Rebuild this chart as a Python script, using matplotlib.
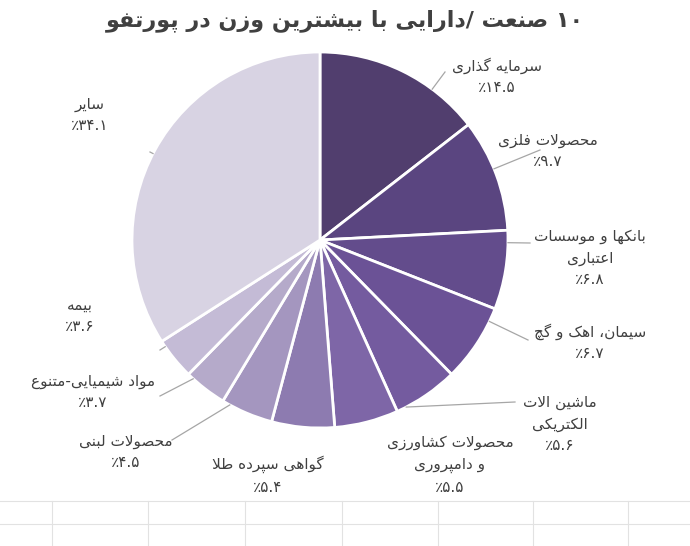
import numpy as np
import matplotlib
matplotlib.use("Agg")
import matplotlib.pyplot as plt

categories = ["سرمایه گذاری", "محصولات فلزی", "بانکها و موسسات\nاعتباری", "سیمان، اهک و گچ",
              "ماشین الات\nالکتریکی", "محصولات کشاورزی\nو دامپروری", "گواهی سپرده طلا",
              "محصولات لبنی", "مواد شیمیایی-متنوع", "بیمه", "سایر"]
values = [14.5, 9.7, 6.8, 6.7, 5.6, 5.5, 5.4, 4.5, 3.7, 3.6, 34.1]
value_labels = ["۱۴.۵", "۹.۷", "۶.۸", "۶.۷", "۵.۶", "۵.۵", "۵.۴", "۴.۵", "۳.۷", "۳.۶", "۳۴.۱"]
title = "۱۰ صنعت /دارایی با بیشترین وزن در پورتفو"

colors = ["#513e6e", "#5a4580", "#634c8c", "#6b5296", "#745b9f", "#7e66a7", "#8d7bb0",
          "#a496bf", "#b5aaca", "#c4bbd6", "#d8d3e3"]

F = {'ا':('\uFE8D','\uFE8E',None,None),'آ':('\uFE81','\uFE82',None,None),
 'ب':('\uFE8F','\uFE90','\uFE91','\uFE92'),'پ':('\uFB56','\uFB57','\uFB58','\uFB59'),
 'ت':('\uFE95','\uFE96','\uFE97','\uFE98'),'ث':('\uFE99','\uFE9A','\uFE9B','\uFE9C'),
 'ج':('\uFE9D','\uFE9E','\uFE9F','\uFEA0'),'چ':('\uFB7A','\uFB7B','\uFB7C','\uFB7D'),
 'ح':('\uFEA1','\uFEA2','\uFEA3','\uFEA4'),'خ':('\uFEA5','\uFEA6','\uFEA7','\uFEA8'),
 'د':('\uFEA9','\uFEAA',None,None),'ذ':('\uFEAB','\uFEAC',None,None),
 'ر':('\uFEAD','\uFEAE',None,None),'ز':('\uFEAF','\uFEB0',None,None),
 'ژ':('\uFB8A','\uFB8B',None,None),'س':('\uFEB1','\uFEB2','\uFEB3','\uFEB4'),
 'ش':('\uFEB5','\uFEB6','\uFEB7','\uFEB8'),'ص':('\uFEB9','\uFEBA','\uFEBB','\uFEBC'),
 'ض':('\uFEBD','\uFEBE','\uFEBF','\uFEC0'),'ط':('\uFEC1','\uFEC2','\uFEC3','\uFEC4'),
 'ظ':('\uFEC5','\uFEC6','\uFEC7','\uFEC8'),'ع':('\uFEC9','\uFECA','\uFECB','\uFECC'),
 'غ':('\uFECD','\uFECE','\uFECF','\uFED0'),'ف':('\uFED1','\uFED2','\uFED3','\uFED4'),
 'ق':('\uFED5','\uFED6','\uFED7','\uFED8'),'ک':('\uFB8E','\uFB8F','\uFB90','\uFB91'),
 'گ':('\uFB92','\uFB93','\uFB94','\uFB95'),'ل':('\uFEDD','\uFEDE','\uFEDF','\uFEE0'),
 'م':('\uFEE1','\uFEE2','\uFEE3','\uFEE4'),'ن':('\uFEE5','\uFEE6','\uFEE7','\uFEE8'),
 'ه':('\uFEE9','\uFEEA','\uFEEB','\uFEEC'),'و':('\uFEED','\uFEEE',None,None),
 'ی':('\uFBFC','\uFBFD','\uFBFE','\uFBFF')}

def shape_word(w):
    chars = list(w)
    n = len(chars)
    res = []
    for i, c in enumerate(chars):
        if c not in F:
            res.append(c); continue
        prev = chars[i-1] if i > 0 else None
        nxt = chars[i+1] if i+1 < n else None
        jp = prev in F and F[prev][2] is not None
        jn = nxt in F and F[c][2] is not None
        if c == 'ا' and prev == 'ل':
            pp = chars[i-2] if i > 1 else None
            lj = pp in F and F[pp][2] is not None
            res[-1] = '\uFEFC' if lj else '\uFEFB'
            continue
        f = F[c]
        if jp and jn: res.append(f[3])
        elif jp: res.append(f[1])
        elif jn: res.append(f[2])
        else: res.append(f[0])
    return ''.join(res)[::-1]

def vis(text):
    lines = []
    for line in text.split("\n"):
        toks = []
        for t in line.split(" "):
            toks.append(shape_word(t) if any(ch in F for ch in t) else t)
        lines.append(" ".join(toks[::-1]))
    return "\n".join(lines)

W, H = 690, 546
fig = plt.figure(figsize=(6.9, 5.46), dpi=100)
ax = fig.add_axes([0, 0, 1, 1])

for y in (501, 524):
    ax.plot([0, W], [y, y], color="#e2e2e2", lw=0.8, zorder=0)
for x in (52, 148, 245, 342, 438, 533, 628):
    ax.plot([x, x], [501, H], color="#e2e2e2", lw=0.8, zorder=0)

cx, cy, R = 320, 240, 188
ax.pie(values, colors=colors, startangle=-90, counterclock=True,
       center=(cx, cy), radius=R, frame=True,
       wedgeprops=dict(edgecolor="white", linewidth=2))
ax.set_xlim(0, W); ax.set_ylim(H, 0); ax.axis("off")

label_pos = [(497, 76), (548, 151), (590, 258), (590, 342), (560, 424), (450, 465),
             (268, 475), (126, 452), (93, 392), (80, 316), (90, 115)]
line_end = [(445, 72), (540, 150), (530, 243), (528, 340), (515, 402), None,
            None, (172, 440), (160, 396), (160, 350), (150, 152)]
tot = sum(values)
ang = -90.0
for i, v in enumerate(values):
    a0 = ang
    ang += v / tot * 360
    a1 = ang
    if line_end[i] is not None:
        ex, ey = line_end[i]
        t = np.degrees(np.arctan2(ey - cy, ex - cx))
        while t < a0: t += 360
        while t > a0 + 360: t -= 360
        pad = 0.15 * (a1 - a0)
        t = min(max(t, a0 + pad), a1 - pad)
        px = cx + R * np.cos(np.radians(t))
        py = cy + R * np.sin(np.radians(t))
        ax.plot([px, ex], [py, ey], color="#a6a6a6", lw=0.9, zorder=3)
    txt = vis(categories[i]) + "\n" + "٪" + value_labels[i]
    ax.text(label_pos[i][0], label_pos[i][1], txt, ha="center", va="center",
            fontsize=11, color="#404040", linespacing=1.55, fontfamily="DejaVu Sans", zorder=4)

ax.text(345, 21, vis(title), ha="center", va="center", fontsize=16, fontweight="bold",
        color="#404040", fontfamily="DejaVu Sans")

fig.savefig("out.png", dpi=100)
